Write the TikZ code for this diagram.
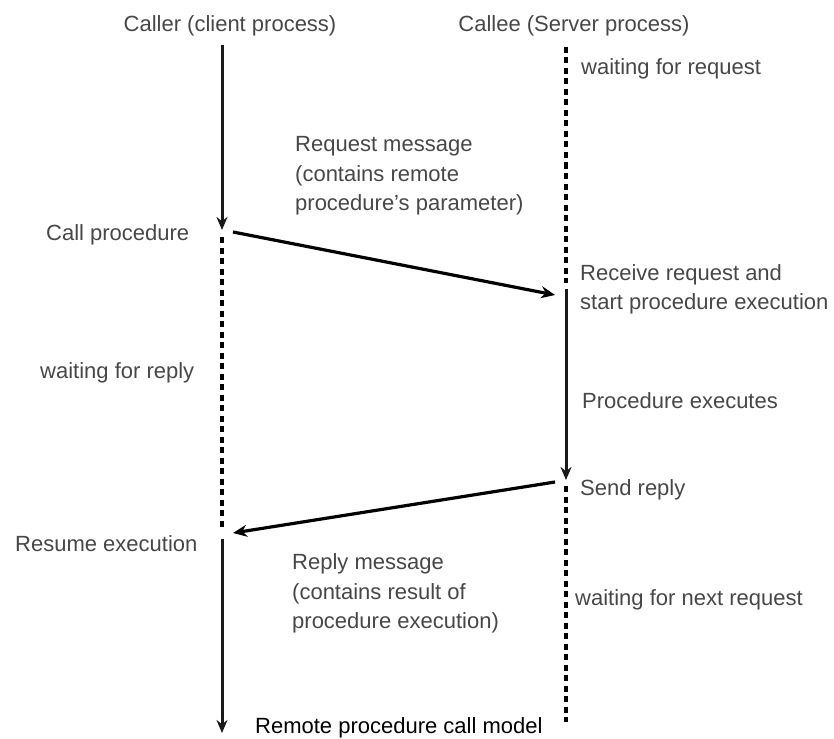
\documentclass[tikz,border=0pt]{standalone}
\usepackage{fontspec}
\setmainfont{Liberation Sans}
\usetikzlibrary{arrows.meta}
\definecolor{txt}{HTML}{474747}
\begin{document}
\begin{tikzpicture}[x=1pt,y=-1pt,
  lbl/.style={anchor=base west, inner sep=0pt, font=\fontsize{22}{26}\selectfont, text=txt},
  head/.style={lbl, anchor=base},
  life/.style={line width=3pt, draw=black!90, -{Stealth[length=13pt,width=11pt]}},
  waitline/.style={line width=3.4pt, dash pattern=on 6pt off 4.5pt},
  msg/.style={line width=3.2pt, -{Stealth[length=14pt,width=12pt]}}]
\useasboundingbox (0,0) rectangle (834,738);
% lifeline points
\coordinate (cTop) at (222,45);
\coordinate (cCall) at (222,230);
\coordinate (cWaitA) at (222,237);
\coordinate (cWaitB) at (222,530);
\coordinate (cRes) at (222,539);
\coordinate (cEnd) at (222,733);
\coordinate (sTop) at (566,47);
\coordinate (sWaitB) at (566,283);
\coordinate (sRecv) at (566,289);
\coordinate (sSend) at (566,480);
\coordinate (sWait2) at (566,486);
\coordinate (sEnd) at (566,722);
\coordinate (reqA) at (233,232);
\coordinate (reqB) at (555,295);
\coordinate (repA) at (555,482);
\coordinate (repB) at (233,533);
% headers
\node[head] (caller) at (230,32) {Caller (client process)};
\node[head] (callee) at (574,32) {Callee (Server process)};
% client lifeline
\draw[life] (cTop) -- (cCall);
\draw[waitline] (cWaitA) -- (cWaitB);
\draw[life] (cRes) -- (cEnd);
% server lifeline
\draw[waitline] (sTop) -- (sWaitB);
\draw[life] (sRecv) -- (sSend);
\draw[waitline] (sWait2) -- (sEnd);
% messages
\draw[msg] (reqA) -- (reqB);
\draw[msg] (repA) -- (repB);
% labels
\node[lbl] (wreq) at (581,75) {waiting for request};
\node[lbl] (rq1) at (295,152) {Request message};
\node[lbl] (rq2) at (295,181) {(contains remote};
\node[lbl] (rq3) at (295,210) {procedure's parameter)};
\node[lbl] (callp) at (46,240) {Call procedure};
\node[lbl] (recv1) at (580,280) {Receive request and};
\node[lbl] (recv2) at (580,309) {start procedure execution};
\node[lbl] (wrep) at (40,378) {waiting for reply};
\node[lbl] (pexec) at (582,408) {Procedure executes};
\node[lbl] (send) at (580,495) {Send reply};
\node[lbl] (resume) at (15,551) {Resume execution};
\node[lbl] (rp1) at (292,569) {Reply message};
\node[lbl] (rp2) at (292,599) {(contains result of};
\node[lbl] (rp3) at (292,628) {procedure execution)};
\node[lbl] (wnext) at (575,605) {waiting for next request};
\node[lbl, text=black] (title) at (255,733) {Remote procedure call model};
\end{tikzpicture}
\end{document}
